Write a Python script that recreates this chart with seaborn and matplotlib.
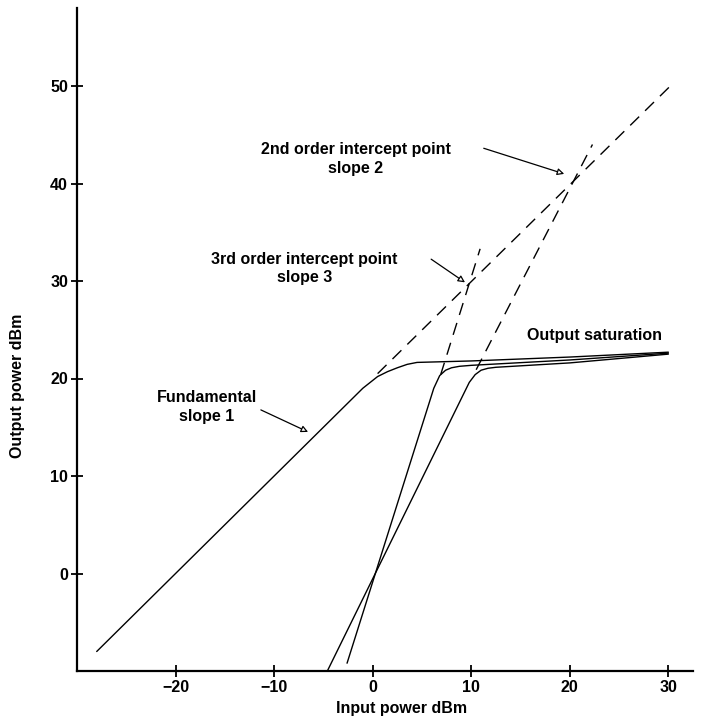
import matplotlib
matplotlib.use('Agg')
import matplotlib.pyplot as plt
import pandas as pd
import seaborn as sns

# solid response curves (input dBm -> output dBm)
fund_x = [-28, -1, 0.5, 1.5, 2.5, 3.5, 4.5, 10, 20, 30]
fund_y = [-8, 19, 20.2, 20.7, 21.1, 21.45, 21.65, 21.8, 22.2, 22.7]

third_x = [-2.6, 6.2, 6.8, 7.4, 8.0, 8.8, 10, 20, 30]
third_y = [-9.2, 19.0, 20.3, 20.85, 21.1, 21.25, 21.35, 21.9, 22.6]

second_x = [-4.6, 9.8, 10.4, 11.0, 11.7, 12.5, 15, 20, 30]
second_y = [-10, 19.6, 20.4, 20.85, 21.05, 21.15, 21.3, 21.6, 22.5]

# dashed extrapolations
fund_ext_x = [0.5, 30.5]
fund_ext_y = [20.5, 50.3]
third_ext_x = [6.9, 10.9]
third_ext_y = [20.4, 33.3]
second_ext_x = [10.5, 22.3]
second_ext_y = [20.9, 44.0]

x_ticks = [-20, -10, 0, 10, 20, 30]
y_ticks = [0, 10, 20, 30, 40, 50]

sns.set_style('white')
plt.rcParams['font.family'] = ['Liberation Sans', 'DejaVu Sans']
plt.rcParams['font.weight'] = 'bold'
plt.rcParams['text.color'] = 'black'

fig = plt.figure(figsize=(7.21, 7.19), dpi=100)
ax = fig.add_axes([77 / 721, 1 - 671 / 719, 616 / 721, 663 / 719])

solid = pd.concat([
    pd.DataFrame({'x': fund_x, 'y': fund_y, 'curve': 'fund'}),
    pd.DataFrame({'x': third_x, 'y': third_y, 'curve': 'third'}),
    pd.DataFrame({'x': second_x, 'y': second_y, 'curve': 'second'}),
])
dashed = pd.concat([
    pd.DataFrame({'x': fund_ext_x, 'y': fund_ext_y, 'curve': 'fund'}),
    pd.DataFrame({'x': third_ext_x, 'y': third_ext_y, 'curve': 'third'}),
    pd.DataFrame({'x': second_ext_x, 'y': second_ext_y, 'curve': 'second'}),
])

sns.lineplot(data=solid, x='x', y='y', units='curve', estimator=None, sort=False,
             color='black', lw=1.0, ax=ax)
sns.lineplot(data=dashed, x='x', y='y', units='curve', estimator=None, sort=False,
             color='black', lw=1.0, ax=ax)
for line in ax.lines[-3:]:
    line.set_linestyle((0, (9, 6)))

ax.set_xlim(-30, 32.5)
ax.set_ylim(-10, 58)
ax.set_xticks(x_ticks)
ax.set_yticks(y_ticks)
ax.tick_params(bottom=True, left=True, direction='inout', length=9, width=1.3,
               labelsize=11.5, pad=2, colors='black')
for lab in ax.get_xticklabels() + ax.get_yticklabels():
    lab.set_fontweight('bold')
for s in ['top', 'right']:
    ax.spines[s].set_visible(False)
for s in ['left', 'bottom']:
    ax.spines[s].set_linewidth(1.6)
    ax.spines[s].set_color('black')

ax.set_xlabel('Input power dBm', fontsize=11.5, fontweight='bold', color='black')
ax.set_ylabel('Output power dBm', fontsize=11.5, fontweight='bold', color='black')
ax.xaxis.set_label_coords(0.527, -0.045)
ax.yaxis.set_label_coords(-0.085, 0.43)

txt = dict(ha='center', va='center', fontsize=11.5, fontweight='bold',
           linespacing=1.3, color='black')
arrow = dict(arrowstyle='-|>', fc='white', ec='black', lw=0.9, mutation_scale=10)

ax.text(-16.8, 17.1, 'Fundamental\nslope 1', **txt)
ax.annotate('', xy=(-6.3, 14.4), xytext=(-11.6, 16.9), arrowprops=arrow)

ax.text(-6.9, 31.3, '3rd order intercept point\nslope 3', **txt)
ax.annotate('', xy=(9.6, 29.7), xytext=(5.7, 32.4), arrowprops=arrow)

ax.text(-1.7, 42.5, '2nd order intercept point\nslope 2', **txt)
ax.annotate('', xy=(19.7, 40.9), xytext=(11.0, 43.7), arrowprops=arrow)

ax.text(29.4, 24.4, 'Output saturation', ha='right', va='center',
        fontsize=11.5, fontweight='bold', color='black')

fig.savefig('out.png', dpi=100)
